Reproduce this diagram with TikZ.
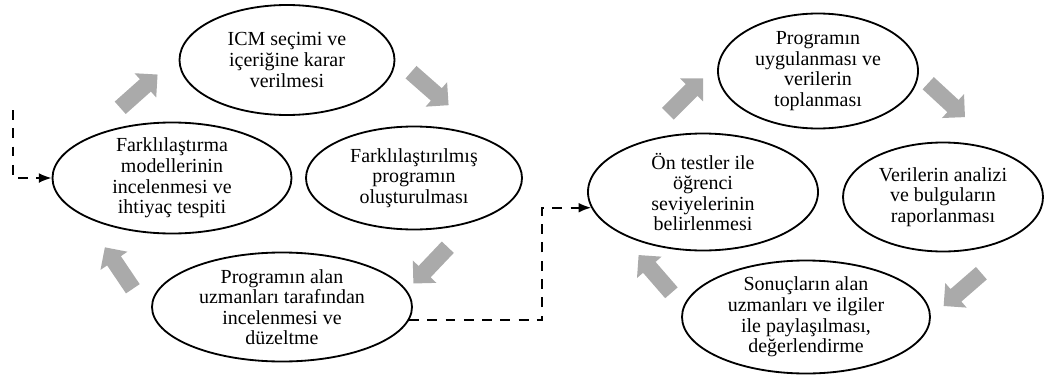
\documentclass[tikz,border=0pt]{standalone}
\usepackage{fontspec}
\setmainfont{Liberation Serif}
\usepackage{tikz}
\usetikzlibrary{shapes.geometric}
\usetikzlibrary{shapes.arrows}
\usetikzlibrary{arrows.meta}
\definecolor{arrowgray}{RGB}{170,170,170}

\begin{document}
\begin{tikzpicture}[
	stage/.style={ellipse, draw, line width=1.3pt, inner sep=0pt},
	stagetext/.style={align=center, font=\fontsize{14.2}{14.6}\selectfont},
	cyc/.style={single arrow, fill=arrowgray, inner xsep=0pt, inner ysep=0.2cm, text height=0pt, text depth=0pt, minimum height=1.25cm, single arrow head extend=0.2cm, anchor=tail},
	feedback/.style={line width=1.3pt, dash pattern=on 7pt off 6pt, -{Latex[length=9pt,width=7pt]}}]
	\useasboundingbox (0,0) rectangle (26.275,9.4);

	\node[stage, minimum width=5.375cm, minimum height=2.75cm, label={[stagetext]center:{ICM seçimi ve\\içeriğine karar\\verilmesi}}] (icm) at (7.175,7.9) {};
	\node[stage, minimum width=5.975cm, minimum height=2.775cm, label={[stagetext]center:{Farklılaştırma\\modellerinin\\incelenmesi ve\\ihtiyaç tespiti}}] (far) at (4.3,4.95) {};
	\node[stage, minimum width=5.4cm, minimum height=2.575cm, label={[stagetext]center:{Farklılaştırılmış\\programın\\oluşturulması}}] (fpro) at (10.35,4.95) {};
	\node[stage, minimum width=6.5cm, minimum height=2.725cm, label={[stagetext]center:{Programın alan\\uzmanları tarafından\\incelenmesi ve\\düzeltme}}] (palan) at (7.05,1.725) {};

	\node[stage, minimum width=5.0cm, minimum height=2.875cm, label={[stagetext]center:{Programın\\uygulanması ve\\verilerin\\toplanması}}] (puyg) at (20.45,7.625) {};
	\node[stage, minimum width=5.75cm, minimum height=2.925cm, label={[stagetext]center:{Ön testler ile\\öğrenci\\seviyelerinin\\belirlenmesi}}] (onl) at (17.575,4.6) {};
	\node[stage, minimum width=5.0cm, minimum height=2.725cm, label={[stagetext]center:{Verilerin analizi\\ve bulguların\\raporlanması}}] (ver) at (23.575,4.475) {};
	\node[stage, minimum width=6.2cm, minimum height=2.825cm, label={[stagetext]center:{Sonuçların alan\\uzmanları ve ilgiler\\ile paylaşılması,\\değerlendirme}}] (son) at (20.15,1.475) {};

	\node[cyc, rotate=41.7] (g1) at (3.0,6.7) {};
	\node[cyc, rotate=-41.3] (g2) at (10.27,7.6) {};
	\node[cyc, rotate=-133.5] (g3) at (11.2,3.225) {};
	\node[cyc, rotate=124] (g4) at (3.325,2.175) {};
	\node[cyc, rotate=45] (g5) at (16.69,6.55) {};
	\node[cyc, rotate=-42.7] (g6) at (23.2,7.325) {};
	\node[cyc, rotate=-139] (g7) at (24.54,2.575) {};
	\node[cyc, rotate=131] (g8) at (16.79,2.075) {};

	\coordinate (start) at (0.325,6.65);
	\coordinate (turn) at (13.55,0);
	\draw[feedback] (start) |- (far.west);
	\draw[feedback] (palan.-6) -| (turn |- onl.188) -- (onl.188);
\end{tikzpicture}
\end{document}
